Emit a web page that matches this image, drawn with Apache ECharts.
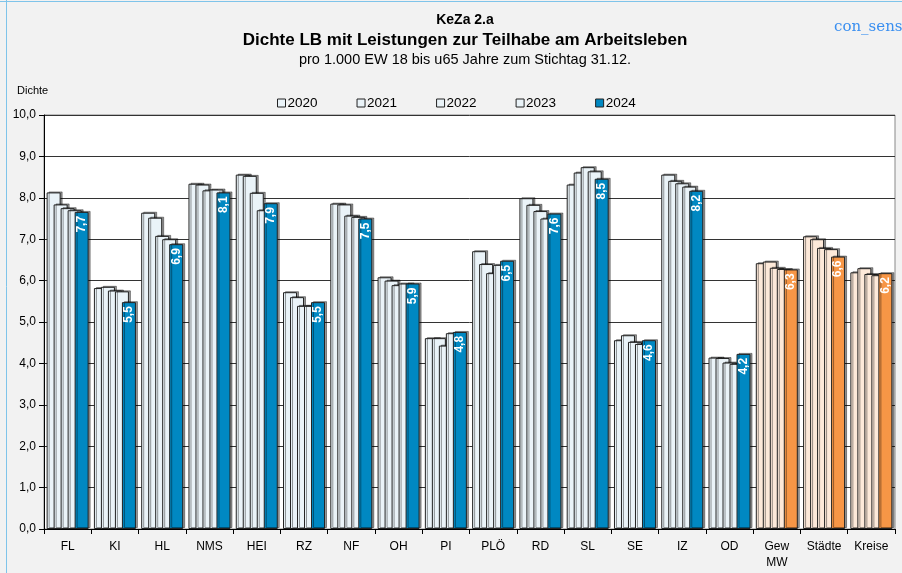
<!DOCTYPE html>
<html>
<head>
<meta charset="utf-8" />
<style>
  html, body { margin: 0; padding: 0; background: #f2f2f2; }
  #main { width: 902px; height: 573px; }
</style>
</head>
<body>
<div id="main"></div>
<script src="https://cdn.jsdelivr.net/npm/echarts@6/dist/echarts.min.js"></script>
<script>
const categories = ["FL", "KI", "HL", "NMS", "HEI", "RZ", "NF", "OH", "PI", "PLÖ", "RD", "SL", "SE", "IZ", "OD", "Gew\nMW", "Städte", "Kreise"];
const years = ["2020", "2021", "2022", "2023", "2024"];
const v2020 = [8.13, 5.82, 7.64, 8.34, 8.56, 5.72, 7.86, 6.08, 4.61, 6.71, 7.99, 8.32, 4.56, 8.56, 4.14, 6.42, 7.07, 6.20];
const v2021 = [7.84, 5.85, 7.52, 8.32, 8.53, 5.60, 7.84, 6.00, 4.61, 6.40, 7.83, 8.61, 4.68, 8.41, 4.13, 6.46, 7.00, 6.30];
const v2022 = [7.75, 5.76, 7.08, 8.18, 8.12, 5.39, 7.57, 5.89, 4.43, 6.18, 7.68, 8.74, 4.52, 8.35, 4.02, 6.31, 6.79, 6.16];
const v2023 = [7.70, 5.74, 7.00, 8.20, 7.70, 5.39, 7.54, 5.93, 4.73, 6.38, 7.50, 8.64, 4.47, 8.27, 3.99, 6.28, 6.76, 6.13];
const v2024 = [7.66, 5.48, 6.88, 8.13, 7.87, 5.48, 7.50, 5.93, 4.76, 6.48, 7.62, 8.46, 4.56, 8.17, 4.23, 6.27, 6.58, 6.18];
const yTicks = [0, 1, 2, 3, 4, 5, 6, 7, 8, 9, 10];

const values = [v2020, v2021, v2022, v2023, v2024];
const firstSummary = 15; // Gew MW, Städte, Kreise in orange

const chart = echarts.init(document.getElementById('main'));

const fmt = v => v.toFixed(1).replace('.', ',');

const series = years.map((y, si) => {
  const last = si === years.length - 1;
  return {
    name: y,
    type: 'bar',
    barWidth: 14,
    barGap: '-50%',
    barCategoryGap: 6,
    itemStyle: {
      color: last ? '#0088c2' : '#eaf3f8',
      borderColor: '#222',
      borderWidth: 1,
      shadowColor: 'rgba(0,0,0,0.4)',
      shadowOffsetX: 2,
      shadowOffsetY: -1
    },
    label: last ? {
      show: true,
      position: 'insideTop',
      distance: 4,
      rotate: 90,
      align: 'right',
      verticalAlign: 'middle',
      color: '#fff',
      fontWeight: 'bold',
      fontSize: 12,
      fontFamily: 'Arial, Liberation Sans, sans-serif',
      formatter: p => fmt(p.value)
    } : { show: false },
    data: values[si].map((v, i) => i >= firstSummary
      ? { value: v, itemStyle: { color: last ? '#f79646' : '#fde9d9' } }
      : v)
  };
});

chart.setOption({
  backgroundColor: '#f2f2f2',
  animation: false,
  textStyle: { fontFamily: 'Arial, Liberation Sans, sans-serif' },
  title: [
    { text: 'KeZa 2.a', left: 460, textAlign: 'center', top: 8, textStyle: { fontSize: 14, fontWeight: 'bold', color: '#000' } },
    { text: 'Dichte LB mit Leistungen zur Teilhabe am Arbeitsleben', left: 460, textAlign: 'center', top: 27,
      textStyle: { fontSize: 17, fontWeight: 'bold', color: '#000' },
      subtext: 'pro 1.000 EW 18 bis u65 Jahre zum Stichtag 31.12.', itemGap: 3,
      subtextStyle: { fontSize: 14.5, color: '#000' } },
    { text: 'con_sens', left: 829, top: 15, textStyle: { fontSize: 15, fontWeight: 'normal', color: '#3a8ff0', fontFamily: 'DejaVu Serif, Liberation Serif, serif' } },
    { text: 'Dichte', left: 12, top: 80, textStyle: { fontSize: 11, fontWeight: 'normal', color: '#000' } }
  ],
  legend: {
    data: years,
    top: 91,
    left: 272,
    itemWidth: 8,
    itemHeight: 8,
    itemGap: 39,
    icon: 'rect',
    textStyle: { fontSize: 13.5, color: '#000', padding: [0, 0, 0, -3] },
    itemStyle: { borderColor: '#222', borderWidth: 1, shadowColor: 'transparent' }
  },
  graphic: [
    { type: 'line', shape: { x1: 6.5, y1: 0, x2: 6.5, y2: 573 }, style: { stroke: '#7fc4ea', lineWidth: 1 } },
    { type: 'line', shape: { x1: 0, y1: 1.5, x2: 902, y2: 1.5 }, style: { stroke: '#7fc4ea', lineWidth: 1 } }
  ],
  grid: {
    left: 44, right: 7, top: 115, bottom: 44,
    show: true, backgroundColor: '#fff', borderColor: '#888', borderWidth: 1
  },
  xAxis: {
    type: 'category',
    data: categories,
    axisLine: { lineStyle: { color: '#000' } },
    axisTick: { show: true, length: 5, lineStyle: { color: '#000' } },
    axisLabel: { color: '#000', fontSize: 12, margin: 10, lineHeight: 16 }
  },
  yAxis: {
    type: 'value',
    min: yTicks[0],
    max: yTicks[yTicks.length - 1],
    interval: 1,
    axisLine: { show: true, lineStyle: { color: '#000' } },
    axisTick: { show: true, length: 5, lineStyle: { color: '#000' } },
    axisLabel: { color: '#000', fontSize: 12, margin: 8, formatter: v => fmt(v) },
    splitLine: { show: true, lineStyle: { color: '#333', width: 1 } }
  },
  series: series
});
</script>
</body>
</html>
